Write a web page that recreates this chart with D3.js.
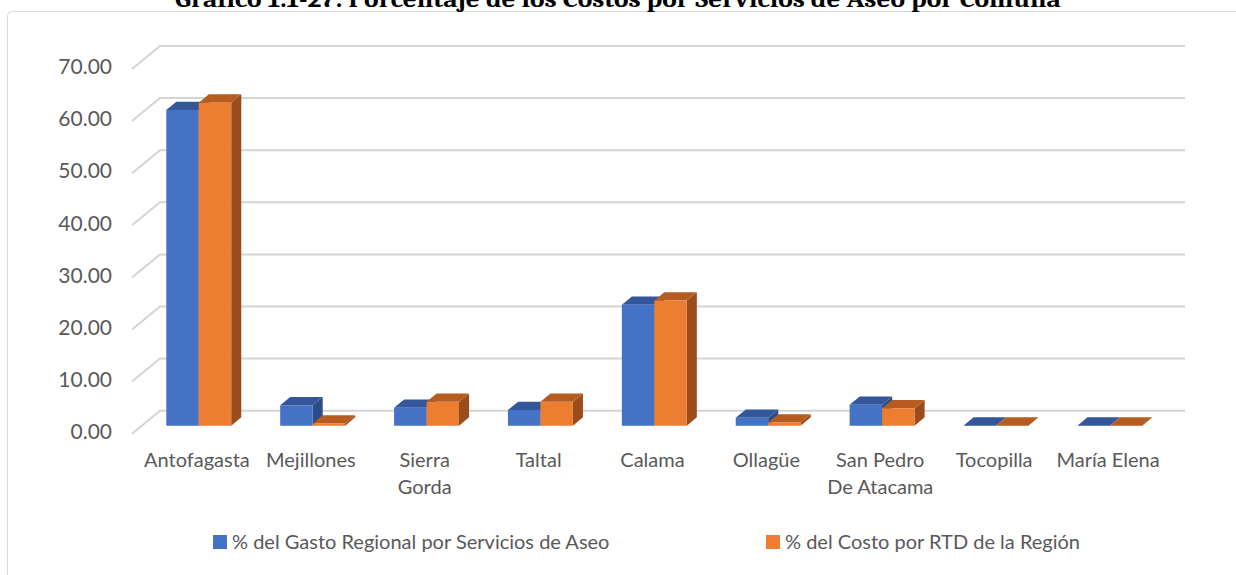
<!DOCTYPE html>
<html>
<head>
<meta charset="utf-8">
<script src="https://cdn.jsdelivr.net/npm/d3@7/dist/d3.min.js"></script>
<style>
  body { margin: 0; background: #fff; }
  text { font-family: Lato, "Open Sans", sans-serif; fill: #595959; }
</style>
</head>
<body>
<script>
// data

const categories = ["Antofagasta", "Mejillones", "Sierra Gorda", "Taltal", "Calama", "Ollagüe", "San Pedro De Atacama", "Tocopilla", "María Elena"];
const categoryLines = [["Antofagasta"], ["Mejillones"], ["Sierra", "Gorda"], ["Taltal"], ["Calama"], ["Ollagüe"], ["San Pedro", "De Atacama"], ["Tocopilla"], ["María Elena"]];
const seriesNames = ["% del Gasto Regional por Servicios de Aseo", "% del Costo por RTD de la Región"];
const gastoRegional = [60.6, 3.9, 3.45, 3.0, 23.2, 1.5, 4.0, 0, 0];
const costoRTD = [62.0, 0.4, 4.6, 4.6, 24.0, 0.6, 3.35, 0, 0];
const yTicks = [0, 10, 20, 30, 40, 50, 60, 70];
const titleText = "Gráfico 1.1-27: Porcentaje de los Costos por Servicios de Aseo por Comuna";

// colors: front, top, side

const shades = [
  { front: "#4472c4", top: "#33579a", side: "#2b4c86" },
  { front: "#ed7d31", top: "#b65c21", side: "#9a4c1c" }];

const w = 1236;
const h = 575;

// 3d box: front plane + depth vector

const depth = { dx: 28, dy: -23 };
const barZ = [0.35, 0.71];

const svg = d3.select("body").append("svg").
attr("width", w).
attr("height", h);

svg.append("rect").
attr("x", 7.5).
attr("y", 11.5).
attr("width", w + 20).
attr("height", h + 20).
attr("rx", 4).
attr("fill", "none").
attr("stroke", "#d9d9d9");

svg.append("text").
attr("x", w / 2).
attr("y", 7).
attr("text-anchor", "middle").
attr("textLength", 886).
attr("lengthAdjust", "spacingAndGlyphs").
style("font-family", "Cambria, 'Liberation Serif', serif").
style("font-weight", "bold").
style("font-size", "24px").
style("fill", "#000").
text(titleText);

const x0 = d3.scaleBand().
domain(categories).
range([132, 1157]).
paddingInner(0.43).
paddingOuter(0.215);

const x1 = d3.scaleBand().
domain([0, 1]).
range([0, x0.bandwidth()]);

const y = d3.scaleLinear().
domain([0, 70]).
range([433.7, 69]);

function proj(px, v, z) {
  return [px + z * depth.dx, y(v) + z * depth.dy];
}

function poly(pts) {
  return "M" + pts.map(p => p.join(",")).join("L") + "Z";
}

// gridlines: left wall diagonal + back wall

const grid = svg.append("g");

grid.selectAll(".diag").
data(yTicks).
enter().
append("path").
attr("d", d => "M" + proj(132, d, 0).join(",") + "L" + proj(132, d, 1).join(",") + "L" + proj(1157, d, 1).join(",")).
attr("fill", "none").
attr("stroke", "#d4d4d4").
attr("stroke-width", 2);

const yAxis = d3.axisLeft(y).
tickValues(yTicks).
tickSize(0).
tickPadding(6).
tickFormat(d3.format(".2f"));

svg.append("g").
attr("transform", "translate(118, -2)").
call(yAxis).
call(g => g.select(".domain").remove()).
selectAll("text").
style("font-family", "Lato, 'Open Sans', sans-serif").
style("font-size", "21px").
attr("fill", "#595959");

// bars

const rows = [];
categories.forEach((c, i) => {
  [gastoRegional[i], costoRTD[i]].forEach((v, s) => rows.push({ c, s, v }));
});

const bars = svg.append("g").
selectAll("g").
data(rows).
enter().
append("g");

bars.each(function (d) {
  const g = d3.select(this);
  const xl = x0(d.c) + x1(d.s);
  const xr = xl + x1.bandwidth();
  const z0 = barZ[0], z1 = barZ[1];
  const col = shades[d.s];
  g.append("path").
  attr("d", poly([proj(xr, 0, z0), proj(xr, 0, z1), proj(xr, d.v, z1), proj(xr, d.v, z0)])).
  attr("fill", col.side);
  g.append("path").
  attr("d", poly([proj(xl, d.v, z0), proj(xr, d.v, z0), proj(xr, d.v, z1), proj(xl, d.v, z1)])).
  attr("fill", col.top);
  g.append("path").
  attr("d", poly([proj(xl, 0, z0), proj(xr, 0, z0), proj(xr, d.v, z0), proj(xl, d.v, z0)])).
  attr("fill", col.front);
});

// category labels

const labels = svg.append("g").
selectAll("text").
data(categories).
enter().
append("text").
attr("x", d => x0(d) + x0.bandwidth() / 2 + 8).
attr("y", 467).
attr("text-anchor", "middle").
style("font-size", "20px");

labels.selectAll("tspan").
data((d, i) => categoryLines[i]).
enter().
append("tspan").
attr("x", function () { return d3.select(this.parentNode).attr("x"); }).
attr("dy", (d, i) => i === 0 ? 0 : 27).
text(d => d);

// legend

const legendX = [213, 766];

const legend = svg.append("g").
selectAll("g").
data(seriesNames).
enter().
append("g").
attr("transform", (d, i) => "translate(" + legendX[i] + ", 535)");

legend.append("rect").
attr("width", 14).
attr("height", 14).
attr("fill", (d, i) => shades[i].front);

legend.append("text").
attr("x", 19).
attr("y", 14).
style("font-size", "20px").
text(d => d);
</script>
</body>
</html>
